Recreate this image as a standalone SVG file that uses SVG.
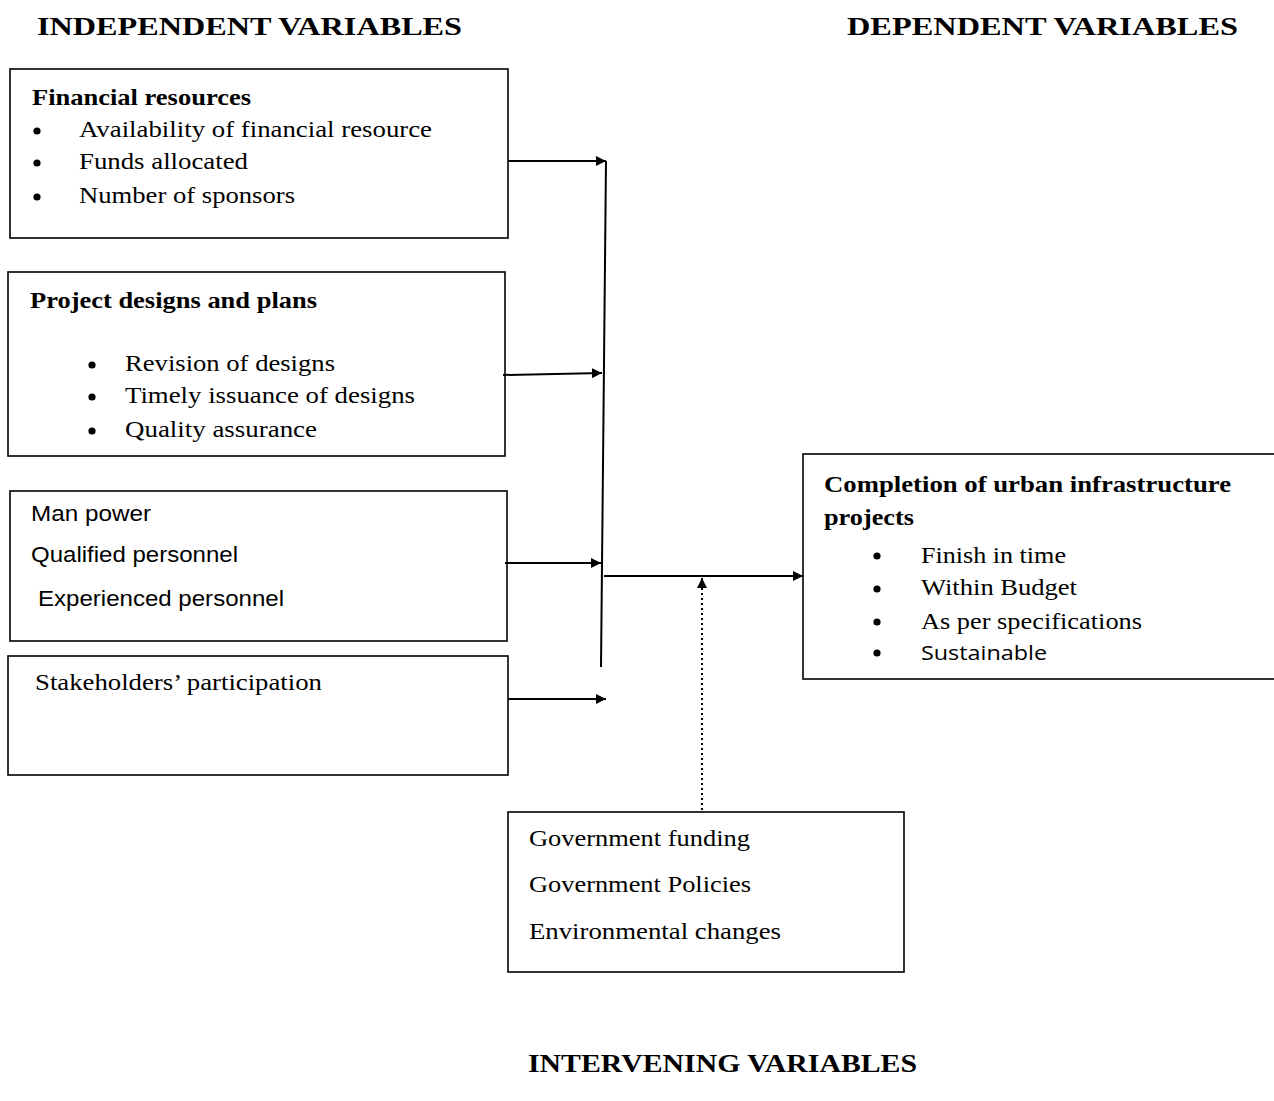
<svg xmlns="http://www.w3.org/2000/svg" width="1274" height="1101" viewBox="0 0 1274 1101">
<style>
.box{fill:#fff;stroke:#000;stroke-width:1.6}
.t{font-family:"Liberation Serif","Times New Roman",serif;font-size:24px;fill:#000}
.b{font-weight:bold}
.h{font-family:"Liberation Serif","Times New Roman",serif;font-size:26px;font-weight:bold;fill:#000}
.s{font-family:"Liberation Sans",Arial,sans-serif;font-size:22px;fill:#000}
.c{font-family:"Open Sans","Noto Sans",sans-serif;font-size:20px;fill:#000}
.ln{stroke:#000;stroke-width:2;fill:none}
.dot{stroke:#000;stroke-width:2;stroke-dasharray:2 3;fill:none}
</style>
<defs>
<marker id="ah" viewBox="0 0 10 10" refX="10" refY="5" markerWidth="5" markerHeight="5" orient="auto" markerUnits="strokeWidth">
<path d="M0,0 L10,5 L0,10 z" fill="#000"/>
</marker>
<circle id="bul" r="3.6" fill="#000"/>
</defs>
<rect width="1274" height="1101" fill="#fff"/>

<text class="h" x="37" y="35" textLength="425" lengthAdjust="spacingAndGlyphs">INDEPENDENT VARIABLES</text>
<text class="h" x="847" y="35" textLength="391" lengthAdjust="spacingAndGlyphs">DEPENDENT VARIABLES</text>
<text class="h" x="528" y="1072" textLength="389" lengthAdjust="spacingAndGlyphs">INTERVENING VARIABLES</text>

<g id="financial">
<rect class="box" x="10" y="69" width="498" height="169"/>
<text class="t b" x="32" y="105" textLength="219" lengthAdjust="spacingAndGlyphs">Financial resources</text>
<use href="#bul" x="37" y="131"/>
<text class="t" x="79" y="137" textLength="353" lengthAdjust="spacingAndGlyphs">Availability of financial resource</text>
<use href="#bul" x="37" y="163"/>
<text class="t" x="79" y="169" textLength="169" lengthAdjust="spacingAndGlyphs">Funds allocated</text>
<use href="#bul" x="37" y="197"/>
<text class="t" x="79" y="203" textLength="216" lengthAdjust="spacingAndGlyphs">Number of sponsors</text>
</g>

<g id="designs">
<rect class="box" x="8" y="272" width="497" height="184"/>
<text class="t b" x="30" y="308" textLength="287" lengthAdjust="spacingAndGlyphs">Project designs and plans</text>
<use href="#bul" x="92" y="365"/>
<text class="t" x="125" y="371" textLength="210" lengthAdjust="spacingAndGlyphs">Revision of designs</text>
<use href="#bul" x="92" y="397"/>
<text class="t" x="125" y="403" textLength="290" lengthAdjust="spacingAndGlyphs">Timely issuance of designs</text>
<use href="#bul" x="92" y="431"/>
<text class="t" x="125" y="437" textLength="192" lengthAdjust="spacingAndGlyphs">Quality assurance</text>
</g>

<g id="manpower">
<rect class="box" x="10" y="491" width="497" height="150"/>
<text class="s" x="31" y="521" textLength="120" lengthAdjust="spacingAndGlyphs">Man power</text>
<text class="s" x="31" y="562" textLength="207" lengthAdjust="spacingAndGlyphs">Qualified personnel</text>
<text class="s" x="38" y="606" textLength="246" lengthAdjust="spacingAndGlyphs">Experienced personnel</text>
</g>

<g id="stakeholders">
<rect class="box" x="8" y="656" width="500" height="119"/>
<text class="t" x="35" y="690" textLength="287" lengthAdjust="spacingAndGlyphs">Stakeholders’ participation</text>
</g>

<g id="completion">
<rect class="box" x="803" y="454" width="480" height="225"/>
<text class="t b" x="824" y="492" textLength="407" lengthAdjust="spacingAndGlyphs">Completion of urban infrastructure</text>
<text class="t b" x="824" y="525" textLength="90" lengthAdjust="spacingAndGlyphs">projects</text>
<use href="#bul" x="877" y="556"/>
<text class="t" x="921" y="563" textLength="145" lengthAdjust="spacingAndGlyphs">Finish in time</text>
<use href="#bul" x="877" y="589"/>
<text class="t" x="921" y="595" textLength="156" lengthAdjust="spacingAndGlyphs">Within Budget</text>
<use href="#bul" x="877" y="622"/>
<text class="t" x="921" y="629" textLength="221" lengthAdjust="spacingAndGlyphs">As per specifications</text>
<use href="#bul" x="877" y="653"/>
<text class="c" x="921" y="660" textLength="126" lengthAdjust="spacingAndGlyphs">Sustainable</text>
</g>

<g id="intervening">
<rect class="box" x="508" y="812" width="396" height="160"/>
<text class="t" x="529" y="846" textLength="221" lengthAdjust="spacingAndGlyphs">Government funding</text>
<text class="t" x="529" y="892" textLength="222" lengthAdjust="spacingAndGlyphs">Government Policies</text>
<text class="t" x="529" y="939" textLength="252" lengthAdjust="spacingAndGlyphs">Environmental changes</text>
</g>

<g id="connectors">
<line class="ln" x1="508" y1="161" x2="606" y2="161" marker-end="url(#ah)"/>
<line class="ln" x1="606" y1="161" x2="601" y2="667"/>
<line class="ln" x1="503" y1="375" x2="602" y2="373" marker-end="url(#ah)"/>
<line class="ln" x1="505" y1="563" x2="601" y2="563" marker-end="url(#ah)"/>
<line class="ln" x1="508" y1="699" x2="606" y2="699" marker-end="url(#ah)"/>
<line class="ln" x1="604" y1="576" x2="803" y2="576" marker-end="url(#ah)"/>
<line class="dot" x1="702" y1="810" x2="702" y2="578" marker-end="url(#ah)"/>
</g>
</svg>
